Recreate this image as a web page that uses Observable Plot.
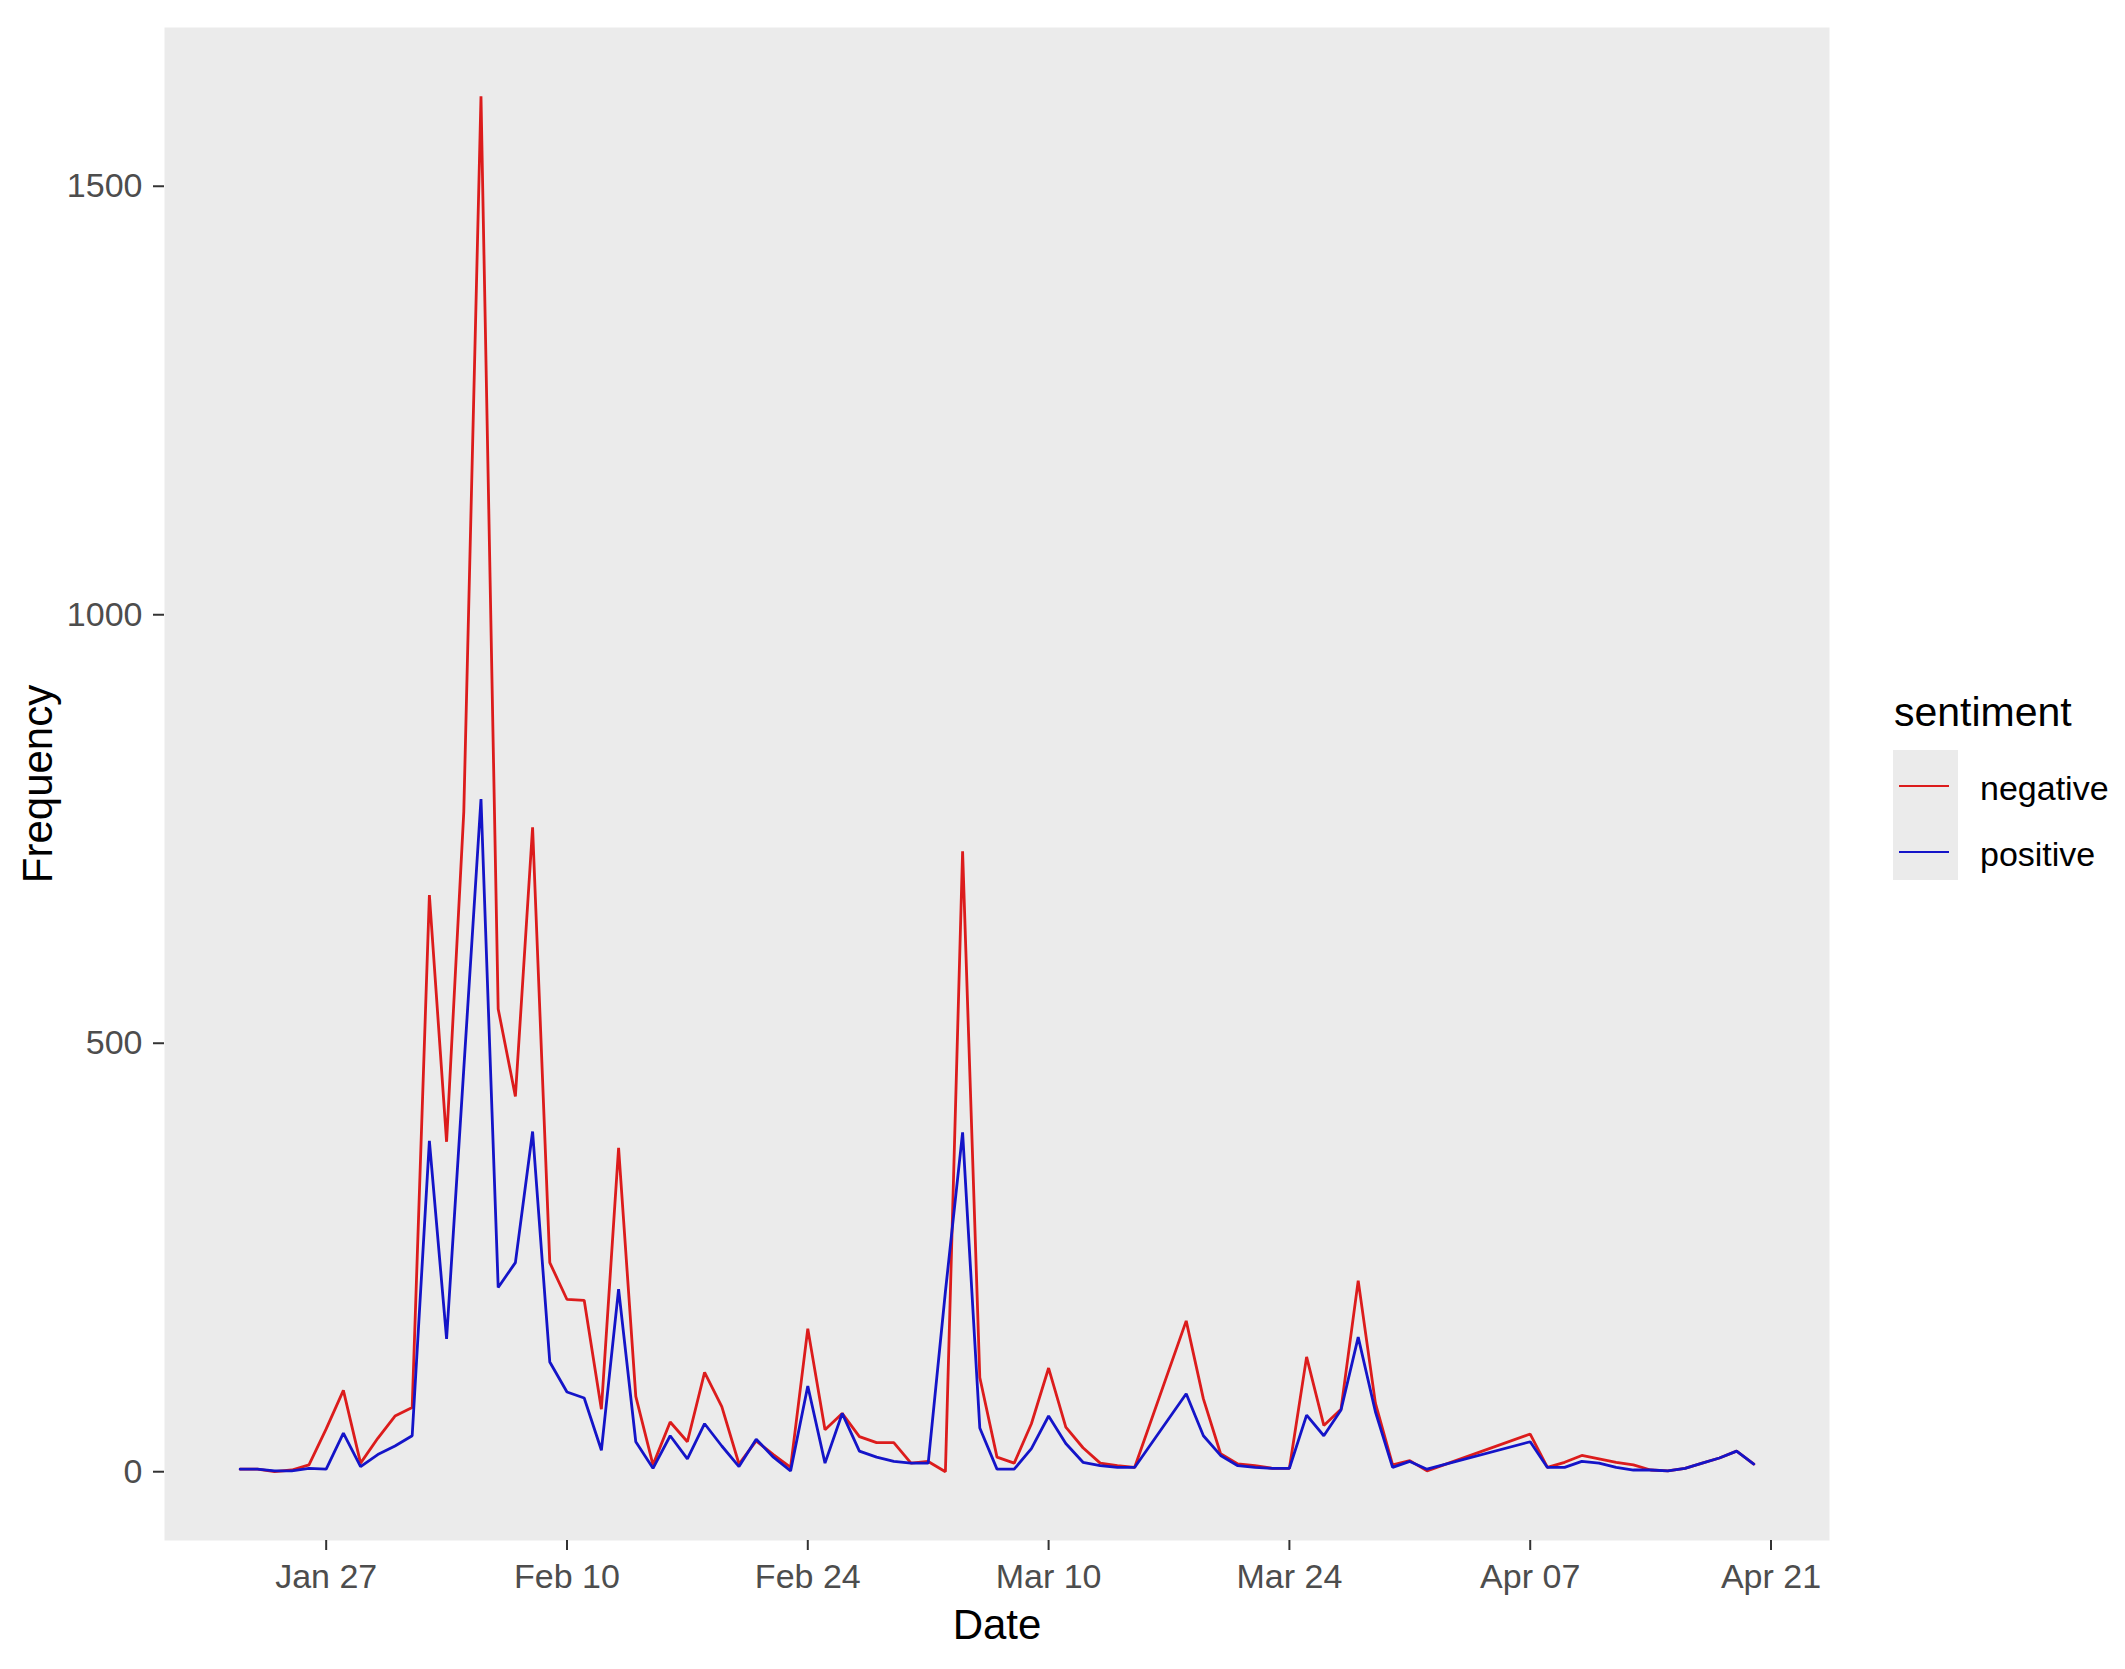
<!DOCTYPE html>
<html>
<head>
<meta charset="utf-8">
<script src="https://cdn.jsdelivr.net/npm/d3@7"></script>
<script src="https://cdn.jsdelivr.net/npm/@observablehq/plot@0.6"></script>
<style>
  html, body { margin: 0; padding: 0; background: #ffffff; }
  #wrap { position: relative; width: 2125px; height: 1669px; font-family: "Liberation Sans", Arial, sans-serif; }
  #wrap svg { position: absolute; left: 0; top: 0; }
  .lg { position: absolute; line-height: 1; white-space: nowrap; }
</style>
</head>
<body>
<div id="wrap"></div>
<script>
const year = 2021;
const dates = [
  "01-22","01-23","01-24","01-25","01-26","01-27","01-28","01-29","01-30","01-31",
  "02-01","02-02","02-03","02-04","02-05","02-06","02-07","02-08","02-09","02-10",
  "02-11","02-12","02-13","02-14","02-15","02-16","02-17","02-18","02-19","02-20",
  "02-21","02-22","02-23","02-24","02-25","02-26","02-27","02-28",
  "03-01","03-02","03-03","03-04","03-05","03-06","03-07","03-08","03-09","03-10",
  "03-11","03-12","03-13","03-14","03-15",
  "03-18","03-19","03-20","03-21","03-22","03-23","03-24",
  "03-25","03-26","03-27","03-28","03-29","03-30","03-31",
  "04-01",
  "04-07","04-08","04-09","04-10","04-11","04-12","04-13",
  "04-14","04-15","04-16","04-17","04-18","04-19","04-20"
];
const negative = [
  3,3,0,2,8,50,95,10,39,65,
  75,673,385,770,1605,540,438,752,244,201,
  200,73,378,88,8,58,35,116,76,9,
  36,20,5,167,49,68,41,34,
  34,10,12,0,724,110,17,10,56,121,
  52,28,10,7,5,
  176,85,21,9,7,4,4,
  134,54,73,223,80,8,13,
  1,
  44,5,11,19,15,11,8,
  2,1,4,10,16,24,9
];
const positive = [
  3,3,1,1,4,3,45,6,20,30,
  42,386,155,470,785,215,244,397,128,93,
  86,25,213,35,4,42,15,56,30,6,
  38,17,1,100,10,68,24,17,
  12,10,10,210,396,51,3,3,27,65,
  33,11,7,5,5,
  91,42,19,7,5,4,4,
  66,42,72,157,70,5,12,
  3,
  35,5,5,12,10,5,2,
  2,1,4,10,16,24,9
];
const sentiments = ["negative", "positive"];
const colors = ["#DC1C1C", "#1414C8"];
const xTickDates = ["01-27","02-10","02-24","03-10","03-24","04-07","04-21"];
const yTicks = [0, 500, 1000, 1500];
const xTitle = "Date";
const yTitle = "Frequency";
const legendTitle = "sentiment";

const parse = s => new Date(`${year}-${s}T00:00:00Z`);
const rows = [];
dates.forEach((d, i) => {
  rows.push({date: parse(d), sentiment: "negative", n: negative[i]});
  rows.push({date: parse(d), sentiment: "positive", n: positive[i]});
});
const [x0, x1] = d3.extent(rows, d => d.date);
const xpad = (x1 - x0) * 0.05;
const [ymin, ymax] = d3.extent(rows, d => d.n);
const ypad = (ymax - ymin) * 0.05;

const font = '"Liberation Sans", Arial, sans-serif';
const chart = Plot.plot({
  width: 2125,
  height: 1669,
  marginLeft: 164,
  marginRight: 296,
  marginTop: 27,
  marginBottom: 129,
  style: {fontFamily: font, background: "#ffffff", overflow: "visible"},
  x: {type: "utc", domain: [new Date(+x0 - xpad), new Date(+x1 + xpad)]},
  y: {domain: [ymin - ypad, ymax + ypad]},
  color: {domain: sentiments, range: colors},
  marks: [
    Plot.frame({fill: "#EBEBEB", stroke: "none"}),
    Plot.axisX({
      ticks: xTickDates.map(parse),
      tickFormat: d3.utcFormat("%b %d"),
      tickSize: 10, tickPadding: 13, fontSize: 34,
      stroke: "#333333", strokeWidth: 2, fill: "#4D4D4D", label: null
    }),
    Plot.axisY({
      ticks: yTicks,
      tickFormat: d => String(d),
      tickSize: 11, tickPadding: 11, fontSize: 34,
      stroke: "#333333", strokeWidth: 2, fill: "#4D4D4D", label: null
    }),
    Plot.line(rows, {x: "date", y: "n", z: "sentiment", stroke: "sentiment", strokeWidth: 2.8, strokeLinejoin: "miter"}),
    Plot.text([xTitle], {frameAnchor: "bottom", dy: 98, lineAnchor: "bottom", textAnchor: "middle", fontSize: 42, fill: "#000000"}),
    Plot.text([yTitle], {frameAnchor: "left", dx: -126, rotate: -90, textAnchor: "middle", fontSize: 42, fill: "#000000"})
  ]
});

const wrap = document.getElementById("wrap");
wrap.appendChild(chart);

// Legend (HTML, placed in the right margin)
function el(style, text) {
  const d = document.createElement("div");
  d.className = "lg";
  Object.assign(d.style, style);
  if (text != null) d.textContent = text;
  wrap.appendChild(d);
  return d;
}
el({left: "1894px", top: "692px", fontSize: "41px", color: "#000"}, legendTitle);
el({left: "1893px", top: "750px", width: "65px", height: "130px", background: "#EBEBEB"});
sentiments.forEach((s, i) => {
  const cy = 786 + i * 66;
  el({left: "1899px", top: (cy - 1.4) + "px", width: "50px", height: "2.8px", background: colors[i]});
  el({left: "1980px", top: (cy + 14 - 28.8) + "px", fontSize: "34px", color: "#000"}, s);
});
</script>
</body>
</html>
